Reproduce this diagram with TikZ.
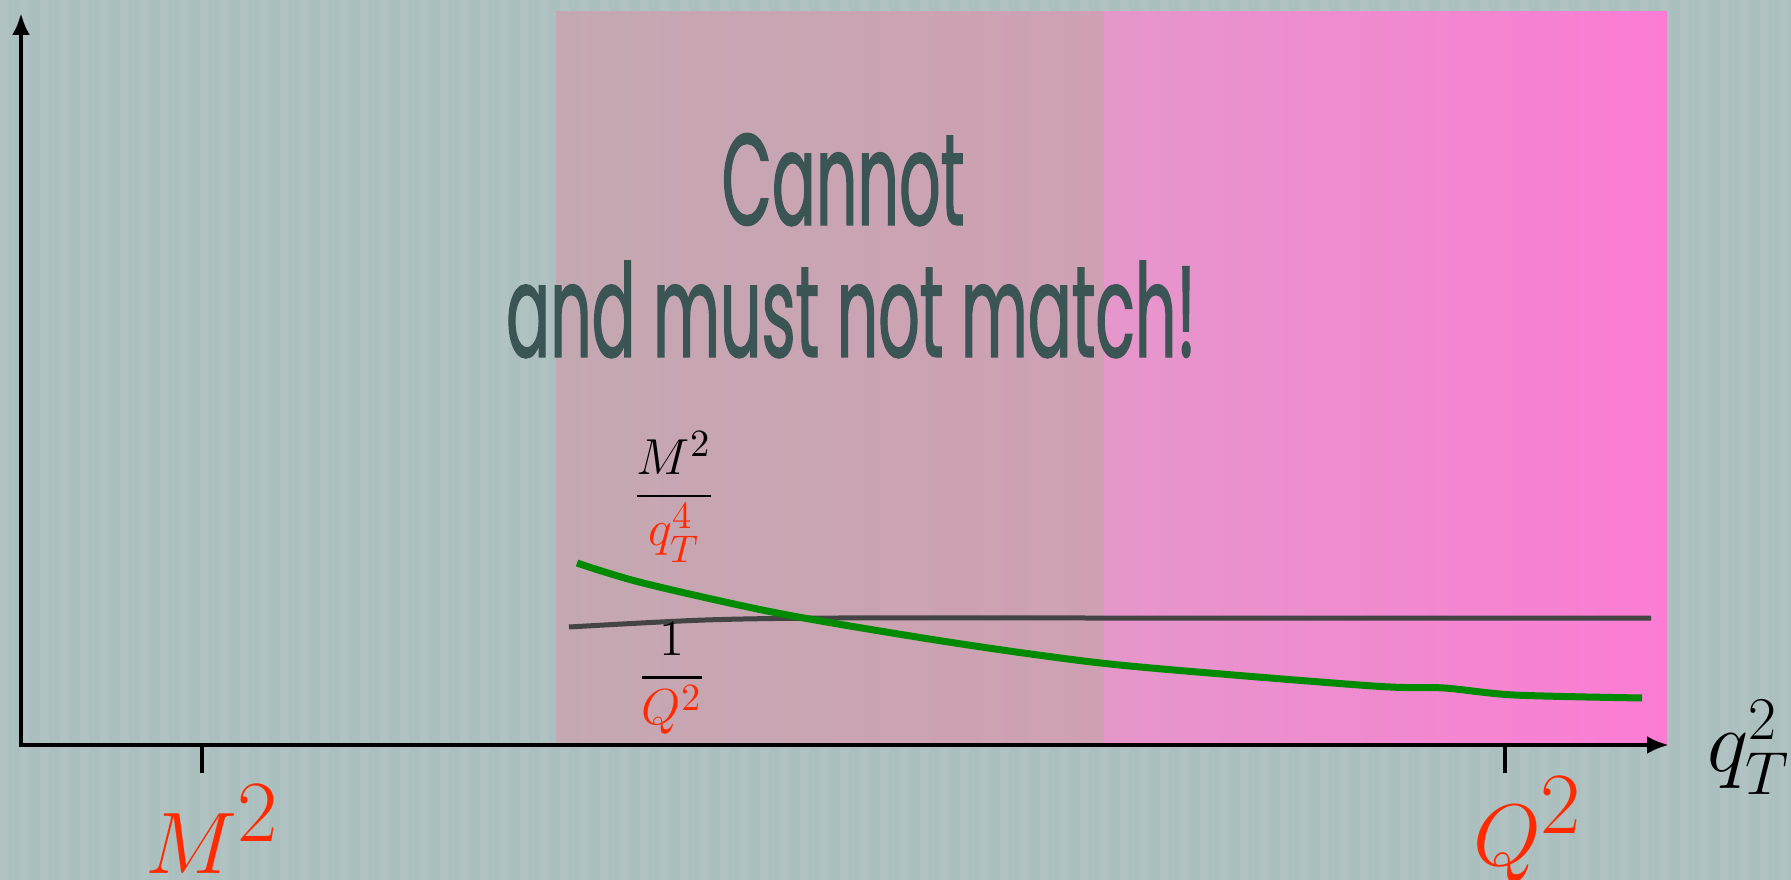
\documentclass[tikz,border=0pt]{standalone}
\usepackage{fontspec}
\usepackage{amsmath}
\usepackage{xcolor}
\usepackage{tikz}
\usetikzlibrary{arrows.meta, positioning}

\newfontfamily\slidefont[FakeStretch=0.50, FakeBold=0.9]{Poppins}
\definecolor{bgteal}{HTML}{AABFBE}
\definecolor{mauveL}{HTML}{C4A8B1}
\definecolor{mauveR}{HTML}{CFA0B4}
\definecolor{pinkL}{HTML}{E597CB}
\definecolor{pinkR}{HTML}{FC7CD4}
\definecolor{slidered}{HTML}{FF2A00}
\definecolor{slidetext}{HTML}{3B5454}
\definecolor{curvegreen}{HTML}{008A00}
\definecolor{curvegray}{HTML}{444444}

\begin{document}
\begin{tikzpicture}[
    x=0.1mm, y=-0.1mm,
    axis/.style={line width=0.45mm, {Latex[length=2.2mm, width=1.8mm]}-{Latex[length=2.2mm, width=1.8mm]}},
    tickmark/.style={line width=0.45mm},
    redlab/.style={inner sep=0pt, text=slidered, font=\fontsize{33}{37}\selectfont},
    fraclab/.style={inner sep=0pt, font=\fontsize{15.5}{18}\selectfont},
    slide/.style={inner sep=0pt, text=slidetext, font=\slidefont\fontsize{37}{44}\selectfont},
]
\useasboundingbox (0,0) rectangle (1791,880);
% Background
\fill[bgteal] (0,0) rectangle (1791,880);
\foreach \x in {0,20,...,1780}
    \fill[white, opacity=0.07] (\x,0) rectangle ++(9,880);

% Regions
\fill[left color=mauveL, right color=mauveR] (556,12) rectangle (1104,745);
\fill[left color=pinkL, right color=pinkR] (1104,12) rectangle (1667,745);

% Axes
\coordinate (ytip) at (21,13);
\coordinate (xtip) at (1669,745);
\draw[axis] (ytip) |- (xtip);

% Ticks
\coordinate (mtick) at (202,745);
\coordinate (qtick) at (1505,745);
\draw[tickmark] (mtick) -- ++(0,28);
\draw[tickmark] (qtick) -- ++(0,28);

% Axis labels
\node[redlab, anchor=base] (mlabel) at (212,873) {$M^2$};
\node[redlab, anchor=base] (qlabel) at (1528,865) {$Q^2$};
\node[inner sep=0pt, anchor=base west, font=\fontsize{25}{28}\selectfont] (qtlabel) at (1707,771) {$q_T^2$};

% Curves
\draw[curvegray, line width=0.5mm] plot[smooth] coordinates {(569,627) (705,620) (838,618) (1100,618) (1651,618)};
\draw[curvegreen, line width=0.7mm] plot[smooth] coordinates {(577,563) (643,583) (777,613) (923,638) (1038,655) (1140,667) (1373,686) (1444,688) (1514,695) (1642,698)};

% Fractions
\node[fraclab] (fracmq) at (674,497) {$\displaystyle\frac{M^2}{\textcolor{slidered}{q_T^4}}$};
\node[fraclab] (fracq) at (672,679) {$\displaystyle\frac{1}{\textcolor{slidered}{Q^2}}$};

% Message
\node[slide, anchor=base] (cannot) at (843,225) {Cannot};
\node[slide, anchor=base] (mustnot) at (851,357) {and must not match!};

\end{tikzpicture}
\end{document}
